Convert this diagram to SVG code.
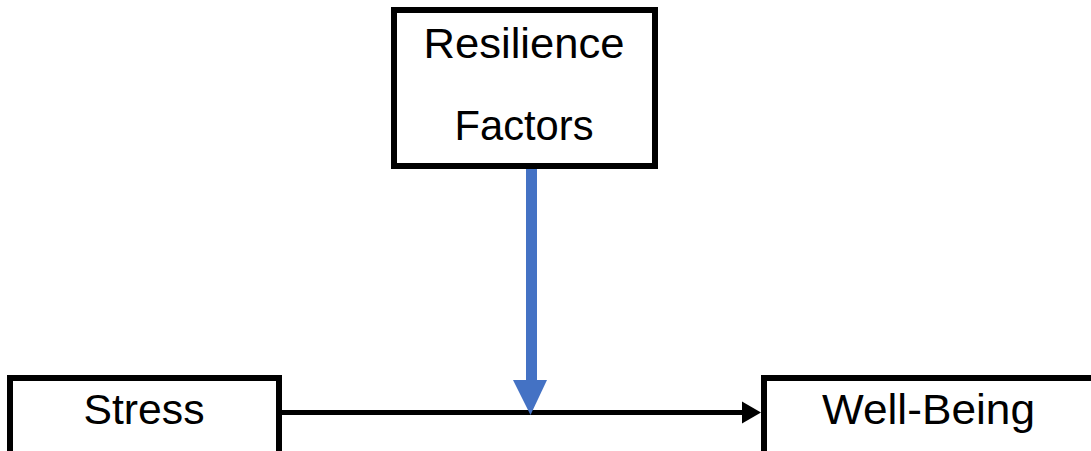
<svg xmlns="http://www.w3.org/2000/svg" width="1091" height="451" viewBox="0 0 1091 451">
<style>
.box{fill:#fff;stroke:#000;stroke-width:6}
.lbl{font-family:"Liberation Sans",Arial,sans-serif;font-size:42px;fill:#000;text-anchor:middle}
</style>
<rect x="0" y="0" width="1091" height="451" fill="#fff"/>
<g id="connectors">
<line x1="282" y1="412.5" x2="744" y2="412.5" stroke="#000" stroke-width="5"/>
<polygon points="742,401.5 761,412.5 742,423.5" fill="#000"/>
<rect x="526" y="168" width="11" height="214" fill="#4472C4"/>
<polygon points="513,380 547,380 530.5,415" fill="#4472C4"/>
</g>
<g id="resilience">
<rect class="box" x="394" y="10" width="261" height="156"/>
<text class="lbl" x="524" y="58" textLength="201" lengthAdjust="spacingAndGlyphs">Resilience</text>
<text class="lbl" x="524" y="140" textLength="139" lengthAdjust="spacingAndGlyphs">Factors</text>
</g>
<g id="stress">
<rect class="box" x="10" y="378" width="269" height="80"/>
<text class="lbl" x="144" y="424" textLength="121" lengthAdjust="spacingAndGlyphs">Stress</text>
</g>
<g id="wellbeing">
<rect class="box" x="764" y="378" width="340" height="80"/>
<text class="lbl" x="928.5" y="424" textLength="213" lengthAdjust="spacingAndGlyphs">Well-Being</text>
</g>
</svg>
